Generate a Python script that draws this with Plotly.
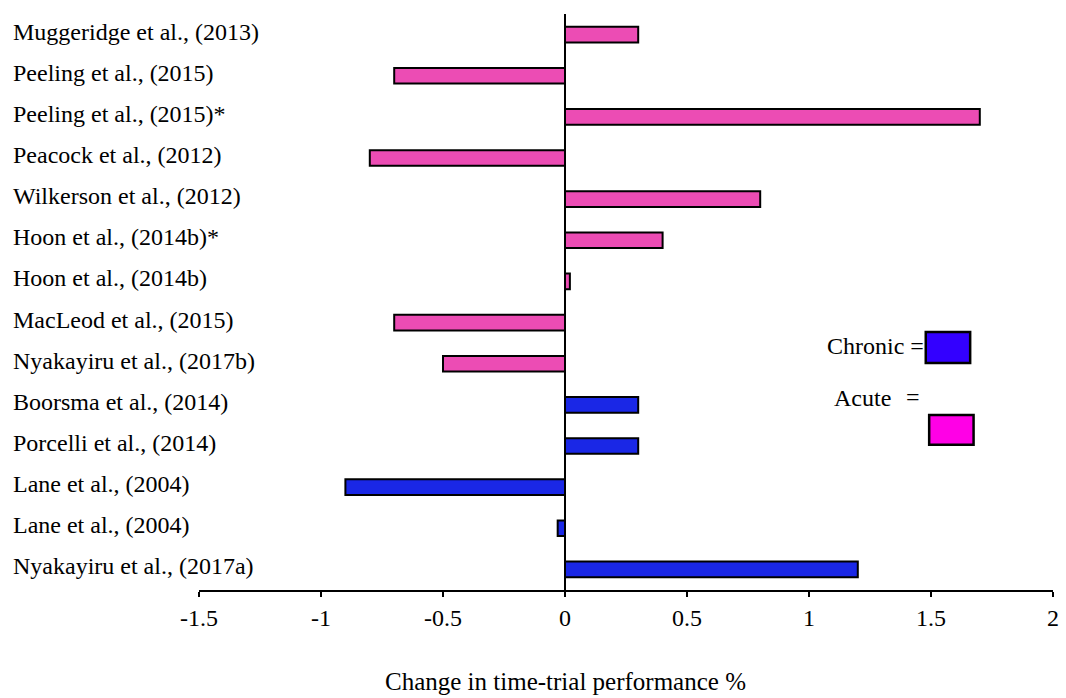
import plotly.graph_objects as go

# Categories, top to bottom
acute_studies = [
    "Muggeridge et al., (2013)",
    "Peeling et al., (2015)",
    "Peeling et al., (2015)*",
    "Peacock et al., (2012)",
    "Wilkerson et al., (2012)",
    "Hoon et al., (2014b)*",
    "Hoon et al., (2014b)",
    "MacLeod et al., (2015)",
    "Nyakayiru et al., (2017b)",
]
acute_values = [0.3, -0.7, 1.7, -0.8, 0.8, 0.4, 0.02, -0.7, -0.5]

chronic_studies = [
    "Boorsma et al., (2014)",
    "Porcelli et al., (2014)",
    "Lane et al., (2004)",
    "Lane et al., (2004) ",
    "Nyakayiru et al., (2017a)",
]
chronic_values = [0.3, 0.3, -0.9, -0.03, 1.2]

x_tickvals = [-1.5, -1, -0.5, 0, 0.5, 1, 1.5, 2]
x_ticktext = ["-1.5", "-1", "-0.5", "0", "0.5", "1", "1.5", "2"]
x_title = "Change in time-trial performance %"

all_studies = acute_studies + chronic_studies

FONT = "Liberation Serif, Times New Roman, serif"
FS = 24
PINK = "#EC4CB4"
BLUE = "#1A27E6"

fig = go.Figure()
fig.add_trace(go.Bar(
    y=acute_studies, x=acute_values, orientation="h", width=0.38,
    marker=dict(color=PINK, line=dict(color="black", width=2)),
    showlegend=False, name="Acute"))
fig.add_trace(go.Bar(
    y=chronic_studies, x=chronic_values, orientation="h", width=0.38,
    marker=dict(color=BLUE, line=dict(color="black", width=2)),
    showlegend=False, name="Chronic"))

# left-aligned study labels
for s in all_studies:
    fig.add_annotation(x=-0.220, xref="paper", y=s, yref="y", text=s.strip(),
                       xanchor="left", yanchor="middle", showarrow=False, yshift=3,
                       font=dict(family=FONT, size=FS, color="black"))

# axis title centred under zero
fig.add_annotation(x=0, xref="x", y=-0.158, yref="paper", text=x_title,
                   xanchor="center", yanchor="middle", showarrow=False,
                   font=dict(family=FONT, size=25, color="black"))

# legend-like annotations
fig.add_annotation(x=0.733, xref="paper", y=0.424, yref="paper", text="Chronic =",
                   xanchor="left", yanchor="middle", showarrow=False,
                   font=dict(family=FONT, size=FS, color="black"))
fig.add_annotation(x=0.741, xref="paper", y=0.333, yref="paper", text="Acute",
                   xanchor="left", yanchor="middle", showarrow=False,
                   font=dict(family=FONT, size=FS, color="black"))
fig.add_annotation(x=0.825, xref="paper", y=0.335, yref="paper", text="=",
                   xanchor="left", yanchor="middle", showarrow=False,
                   font=dict(family=FONT, size=FS, color="black"))
fig.add_shape(type="rect", xref="paper", yref="paper", x0=0.851, x1=0.903, y0=0.394, y1=0.448,
              fillcolor="#3300FF", line=dict(color="black", width=2.5))
fig.add_shape(type="rect", xref="paper", yref="paper", x0=0.855, x1=0.907, y0=0.252, y1=0.304,
              fillcolor="#FF00E6", line=dict(color="black", width=2.5))

fig.update_layout(
    width=1066, height=698,
    margin=dict(l=199, r=13, t=14, b=108, autoexpand=False),
    plot_bgcolor="white", paper_bgcolor="white",
    barmode="overlay",
    font=dict(family=FONT, size=FS, color="black"),
    xaxis=dict(range=[-1.5, 2], tickvals=x_tickvals, ticktext=x_ticktext,
               showline=True, linecolor="black", linewidth=2,
               ticks="outside", ticklen=5, tickwidth=2, tickcolor="black",
               showgrid=False, zeroline=True, zerolinecolor="black", zerolinewidth=1.5,
               automargin=False, fixedrange=True,
               tickfont=dict(family=FONT, size=FS)),
    yaxis=dict(categoryorder="array", categoryarray=all_studies[::-1],
               showticklabels=False, showgrid=False, showline=False, ticks="",
               zeroline=False, automargin=False, fixedrange=True),
)

fig.write_html("out.html", config={"displayModeBar": False},
               post_script="document.body.style.margin='0';document.body.style.padding='0';")
